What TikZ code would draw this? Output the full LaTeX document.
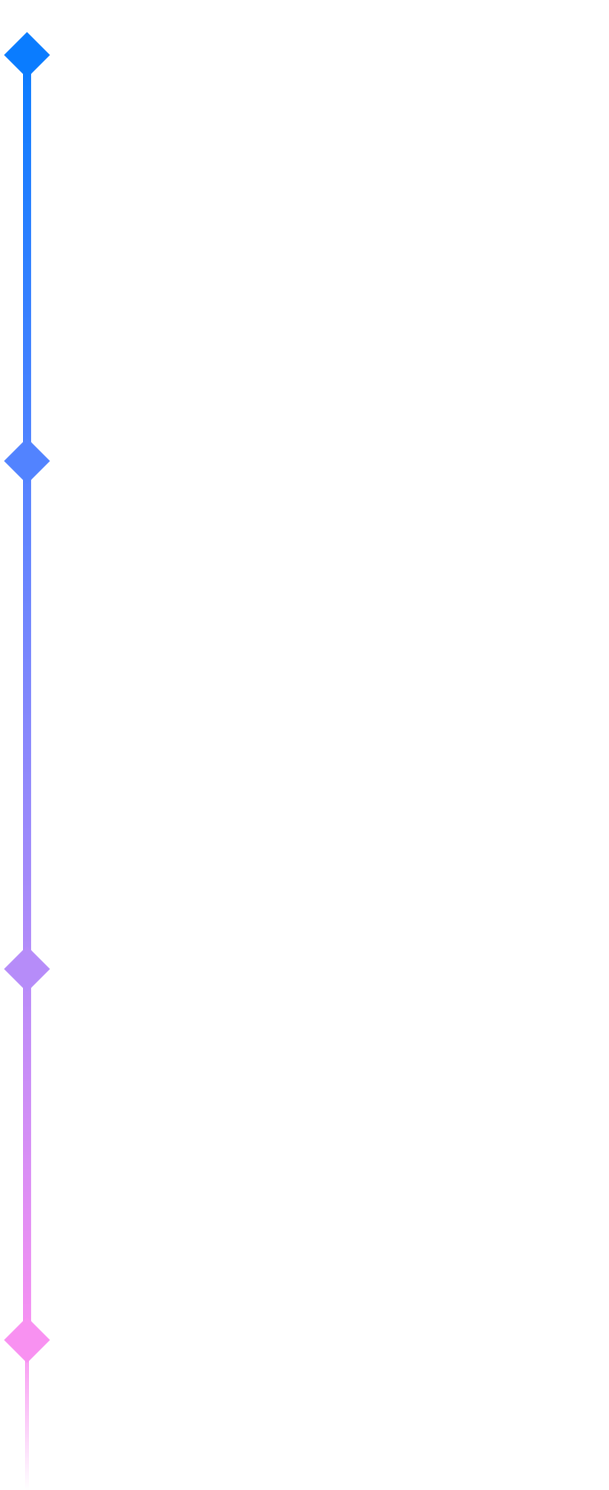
\documentclass[tikz,border=0pt]{standalone}
\usetikzlibrary{shapes.geometric}
\definecolor{ca}{HTML}{0A7CFF}
\definecolor{cb}{HTML}{5283FF}
\definecolor{cc}{HTML}{B68CF9}
\definecolor{cd}{HTML}{F891F1}
\begin{document}
\begin{tikzpicture}[x=1pt,y=-1pt,
  mark/.style={diamond,minimum size=46pt,inner sep=0pt,fill=#1}]
\useasboundingbox (0,0) rectangle (608,1490);
\shade[top color=ca,bottom color=cb] (23,55) rectangle (31,461);
\shade[top color=cb,bottom color=cc] (23,461) rectangle (31,969);
\shade[top color=cc,bottom color=cd] (23,969) rectangle (31,1340);
\shade[top color=cd,bottom color=white] (25.5,1340) rectangle (28.5,1490);
\node[mark=ca] (m1) at (27,55) {};
\node[mark=cb] (m2) at (27,461) {};
\node[mark=cc] (m3) at (27,969) {};
\node[mark=cd] (m4) at (27,1340) {};
\end{tikzpicture}
\end{document}
